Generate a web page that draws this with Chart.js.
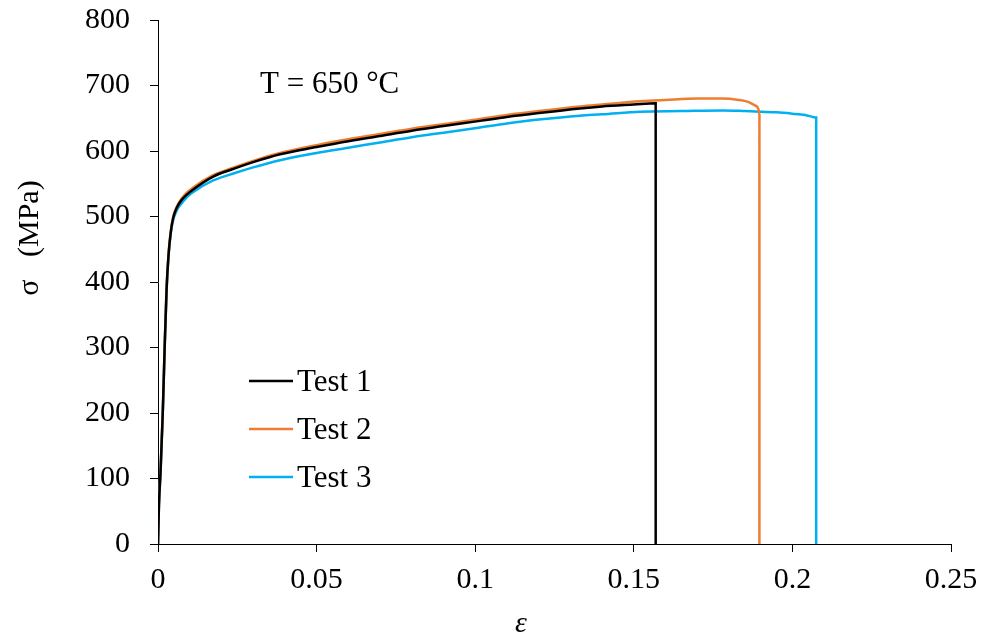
<!DOCTYPE html>
<html>
<head>
<meta charset="utf-8">
<script src="https://cdn.jsdelivr.net/npm/chart.js@4"></script>
<style>
  html, body { margin: 0; padding: 0; background: #fff; }
</style>
</head>
<body>
<canvas id="chart" width="986" height="635"></canvas>
<script>
// ---- data ----
const seriesLabels = ['Test 1', 'Test 2', 'Test 3'];

const strain1 = [0, 0.0003, 0.0008, 0.0015, 0.0021, 0.0027, 0.0033, 0.004, 0.0048, 0.006, 0.0074, 0.009, 0.011, 0.0174, 0.024, 0.03, 0.0385, 0.05, 0.06, 0.07, 0.08, 0.09, 0.1015, 0.11, 0.12, 0.133, 0.14, 0.15, 0.1569, 0.1569];
const stress1 = [0, 60, 110, 200, 300, 388, 440, 475, 498, 514, 525, 533, 541, 561, 573, 583, 595, 606, 615, 623, 631, 638, 646, 652, 658, 665, 668, 671, 673, 0];

const strain2 = [0, 0.0003, 0.0008, 0.0015, 0.0021, 0.0027, 0.0033, 0.004, 0.0048, 0.006, 0.0074, 0.009, 0.011, 0.0174, 0.024, 0.03, 0.0385, 0.05, 0.06, 0.07, 0.08, 0.09, 0.1015, 0.11, 0.12, 0.133, 0.14, 0.152, 0.16, 0.17, 0.178, 0.183, 0.186, 0.188, 0.1893, 0.1896, 0.1896];
const stress2 = [0, 60, 110, 200, 300, 390, 442, 477, 500, 516, 527, 536, 544, 563, 575, 585, 597, 609, 618, 626, 634, 641, 649, 655, 661, 668, 671, 676, 678, 680, 680, 678, 675, 670, 664, 655, 0];

const strain3 = [0, 0.0003, 0.0008, 0.0015, 0.0021, 0.0027, 0.0033, 0.004, 0.0048, 0.006, 0.0074, 0.009, 0.011, 0.0174, 0.024, 0.03, 0.0385, 0.05, 0.06, 0.07, 0.08, 0.09, 0.1015, 0.11, 0.12, 0.133, 0.14, 0.152, 0.165, 0.178, 0.185, 0.19, 0.195, 0.2, 0.204, 0.2065, 0.2075, 0.2075];
const stress3 = [0, 60, 110, 200, 300, 386, 438, 473, 495, 510, 520, 529, 537, 555, 566, 575, 586, 597, 605, 613, 621, 628, 636, 642, 648, 654, 656, 660, 661, 662, 661, 660, 659, 657, 655, 652, 651, 0];

const seriesColors = ['#000000', '#ED7D31', '#00B0F0'];

const xTicks = [0, 0.05, 0.1, 0.15, 0.2, 0.25];
const yTicks = [0, 100, 200, 300, 400, 500, 600, 700, 800];

const xTitle = 'ε';
const yTitle = 'σ   (MPa)';
const note = 'T = 650 °C';

function toPoints(xs, ys) {
    return xs.map(function (x, i) { return { x: x, y: ys[i] }; });
}

const serif = "'Liberation Serif', 'Times New Roman', serif";

// legend, note and axis titles drawn where the reference has them
const extras = {
    id: 'extras',
    afterDraw: function (chart) {
        const ctx = chart.ctx;
        ctx.save();
        ctx.fillStyle = '#000';
        ctx.textBaseline = 'alphabetic';

        // note
        ctx.font = '31px ' + serif;
        ctx.textAlign = 'left';
        ctx.fillText(note, 260, 93);

        // legend
        chart.data.datasets.forEach(function (ds, i) {
            const y = 381 + i * 48;
            ctx.strokeStyle = ds.borderColor;
            ctx.lineWidth = 2.5;
            ctx.beginPath();
            ctx.moveTo(249, y);
            ctx.lineTo(293, y);
            ctx.stroke();
            ctx.fillText(ds.label, 297, y + 10);
        });

        // x title
        ctx.font = 'italic 30px ' + serif;
        ctx.textAlign = 'center';
        ctx.fillText(xTitle, 521, 632);

        // y title
        ctx.font = '30px ' + serif;
        ctx.translate(38, 238);
        ctx.rotate(-Math.PI / 2);
        ctx.fillText(yTitle, 0, 0);
        ctx.restore();
    }
};

new Chart(document.getElementById('chart'), {
    type: 'scatter',
    data: {
        datasets: [
            { label: seriesLabels[0], data: toPoints(strain1, stress1) },
            { label: seriesLabels[1], data: toPoints(strain2, stress2) },
            { label: seriesLabels[2], data: toPoints(strain3, stress3) }
        ].map(function (ds, i) {
            ds.showLine = true;
            ds.borderColor = seriesColors[i];
            ds.backgroundColor = seriesColors[i];
            ds.borderWidth = 2.5;
            ds.pointRadius = 0;
            ds.cubicInterpolationMode = 'monotone';
            return ds;
        })
    },
    options: {
        responsive: false,
        animation: false,
        layout: { padding: { left: 65, right: 35, top: 20, bottom: 27 } },
        plugins: {
            legend: { display: false },
            tooltip: { enabled: false }
        },
        scales: {
            x: {
                type: 'linear',
                min: 0,
                max: 0.25,
                afterBuildTicks: function (scale) {
                    scale.ticks = xTicks.map(function (v) { return { value: v }; });
                },
                afterFit: function (scale) {
                    scale.paddingLeft = 0;
                    scale.paddingRight = 0;
                },
                border: { display: true, color: '#000', width: 1 },
                grid: { drawOnChartArea: false, drawTicks: true, tickLength: 8, color: '#000' },
                ticks: {
                    color: '#000',
                    padding: 10,
                    maxRotation: 0,
                    font: { family: serif, size: 30 },
                    callback: function (v) { return String(Number(v.toFixed(2))); }
                }
            },
            y: {
                min: 0,
                max: 800,
                afterBuildTicks: function (scale) {
                    scale.ticks = yTicks.map(function (v) { return { value: v }; });
                },
                afterFit: function (scale) {
                    scale.paddingTop = 0;
                    scale.paddingBottom = 0;
                },
                border: { display: true, color: '#000', width: 1 },
                grid: { drawOnChartArea: false, drawTicks: true, tickLength: 8, color: '#000' },
                ticks: {
                    color: '#000',
                    padding: 20,
                    font: { family: serif, size: 30 }
                }
            }
        }
    },
    plugins: [extras]
});
</script>
</body>
</html>
